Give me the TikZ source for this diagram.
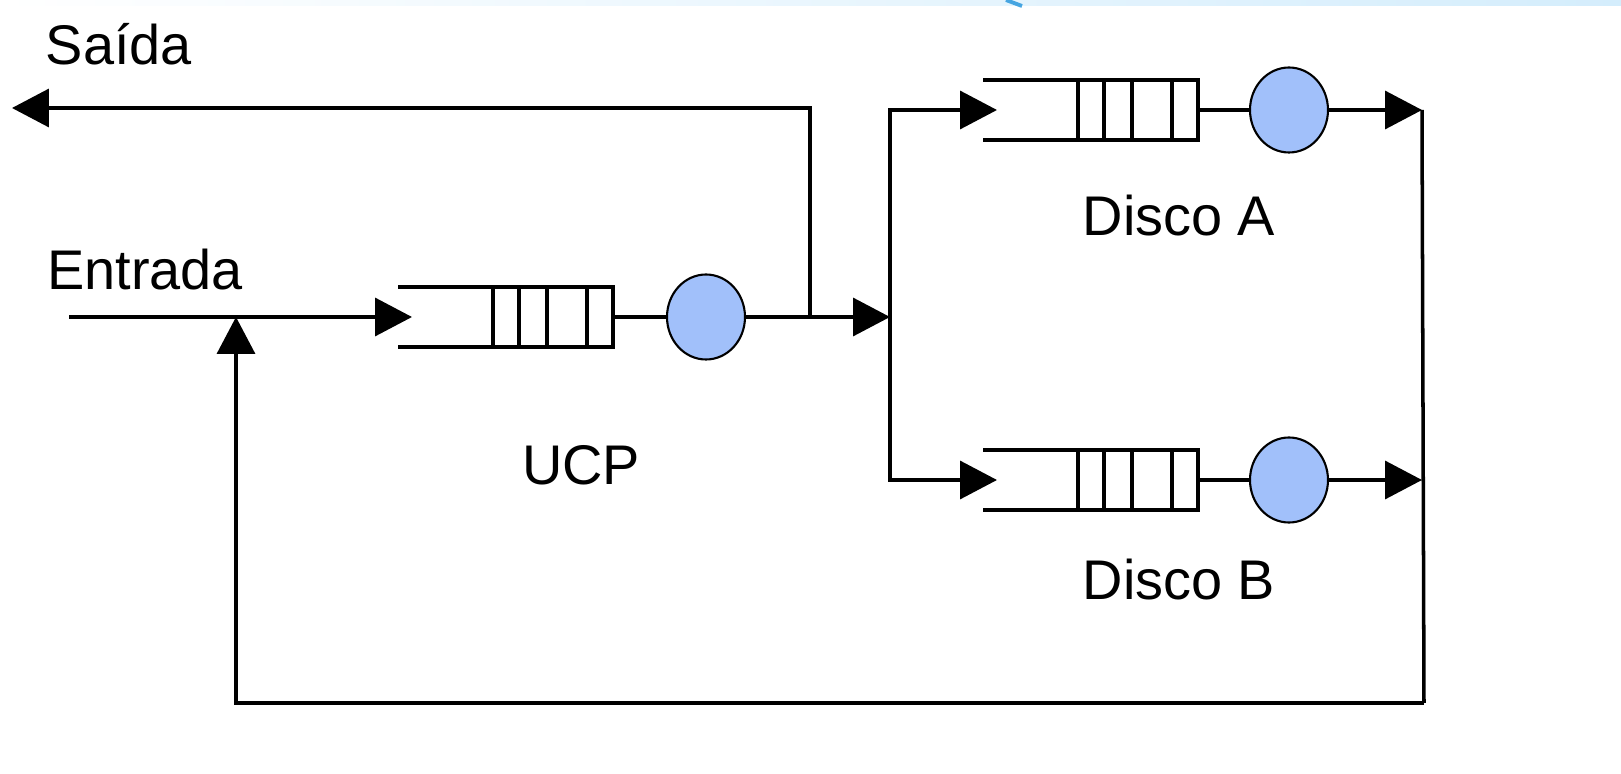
\documentclass[tikz,border=0pt]{standalone}
\usepackage{fontspec}
\setmainfont{Liberation Sans}
\usepackage{xcolor}
\definecolor{serverblue}{RGB}{161, 192, 250}
\definecolor{bandblue}{RGB}{212, 237, 252}
\definecolor{arcblue}{RGB}{70, 165, 225}
\usepackage{tikz}
\usetikzlibrary{arrows.meta,shapes.geometric}

\tikzset{
  wire/.style={line width=1pt},
  flow/.style={wire, -{Triangle[length=3.7mm, width=3.8mm]}},
  server/.style={ellipse, draw, line width=0.6pt, fill=serverblue,
    minimum width=7.8mm, minimum height=8.5mm, inner sep=0pt},
  tag/.style={font=\fontsize{15.9}{19}\selectfont, inner sep=0pt, anchor=base},
}

\begin{document}
\begin{tikzpicture}
    \useasboundingbox (0, 0) rectangle (16.21, 7.73);

    % Slide band at the top
    \fill[left color=white, right color=bandblue] (0, 7.67) rectangle (16.21, 7.73);
    \draw[arcblue, line width=1.1pt] (10.06, 7.73) -- (10.22, 7.67);

    % Queues: open on the left, slots at the right end
    \foreach \q/\x/\y in {ucp/3.98/4.56, a/9.83/6.63, b/9.83/2.93} {
        \draw[wire] (\x, \y+0.3) -- ++(2.15, 0) -- ++(0, -0.6) -- ++(-2.15, 0);
        \foreach \d in {0.95, 1.21, 1.49, 1.89}
            \draw[wire] (\x+\d, \y+0.3) -- ++(0, -0.6);
        \coordinate (\q-in) at (\x+0.14, \y);
        \coordinate (\q-out) at (\x+2.15, \y);
    }

    % Servers
    \node[server] (ucp-srv) at (7.06, 4.56) {};
    \node[server] (a-srv) at (12.89, 6.63) {};
    \node[server] (b-srv) at (12.89, 2.93) {};
    \draw[wire] (ucp-out) -- (ucp-srv);
    \draw[wire] (a-out) -- (a-srv);
    \draw[wire] (b-out) -- (b-srv);

    % Labels
    \node[tag] (saida) at (1.19, 7.08) {Saída};
    \node[tag] (entrada) at (1.45, 4.83) {Entrada};
    \node[tag] (ucp) at (5.81, 2.88) {UCP};
    \node[tag] (disco-a) at (11.79, 5.37) {Disco A};
    \node[tag] (disco-b) at (11.79, 1.73) {Disco B};

    % Routing points
    \coordinate (start) at (0.69, 4.56);
    \coordinate (join) at (2.36, 4.56);
    \coordinate (tap) at (8.10, 4.56);
    \coordinate (split) at (8.90, 4.56);
    \coordinate (exit) at (0.12, 6.65);
    \coordinate (a-end) at (14.22, 6.63);
    \coordinate (b-end) at (14.22, 2.93);
    \coordinate (back) at (14.24, 0.70);

    % Flow between stations
    \draw[flow] (start) -- (ucp-in);
    \draw[flow] (ucp-srv) -- (split);
    \draw[flow] (tap) |- (exit);
    \draw[flow] (split) |- (a-in);
    \draw[flow] (split) |- (b-in);
    \draw[flow] (a-srv) -- (a-end);
    \draw[flow] (b-srv) -- (b-end);
    \draw[wire] (a-end) -- (back);
    \draw[flow] (back) -| (join);
\end{tikzpicture}
\end{document}
